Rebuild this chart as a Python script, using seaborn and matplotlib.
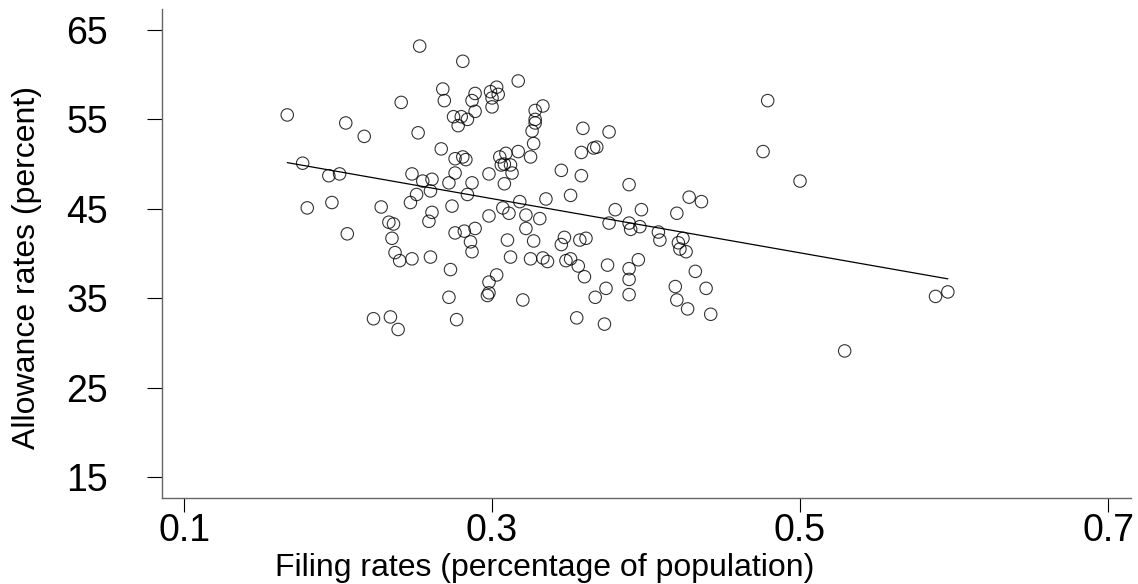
import matplotlib
matplotlib.use("Agg")
import matplotlib.pyplot as plt
import seaborn as sns
import pandas as pd

# filing rate (share of population) per district
filing = [
    0.253, 0.241, 0.167, 0.205, 0.217, 0.252, 0.177, 0.194, 0.201, 0.248,
    0.255, 0.261, 0.260, 0.251, 0.281, 0.317, 0.268, 0.269, 0.289, 0.287,
    0.299, 0.303, 0.304, 0.300, 0.300, 0.333, 0.328, 0.289, 0.275, 0.280,
    0.284, 0.278, 0.328, 0.328, 0.326, 0.327, 0.359, 0.366, 0.368, 0.358,
    0.267, 0.276, 0.281, 0.283, 0.309, 0.305, 0.317, 0.325, 0.308, 0.306,
    0.312, 0.313, 0.298, 0.345, 0.358, 0.276, 0.272, 0.287, 0.308, 0.284,
    0.318, 0.335, 0.351, 0.376, 0.389, 0.428, 0.436, 0.479, 0.476, 0.500,
    0.180, 0.196, 0.228, 0.206, 0.233, 0.236, 0.235, 0.237, 0.240, 0.248,
    0.260, 0.247, 0.261, 0.259, 0.223, 0.234, 0.239, 0.274, 0.298, 0.307,
    0.311, 0.322, 0.331, 0.322, 0.276, 0.282, 0.289, 0.286, 0.287, 0.310,
    0.327, 0.347, 0.345, 0.357, 0.361, 0.312, 0.325, 0.333, 0.336, 0.348,
    0.351, 0.356, 0.360, 0.273, 0.303, 0.298, 0.298, 0.297, 0.272, 0.320,
    0.367, 0.277, 0.355, 0.373, 0.380, 0.397, 0.420, 0.376, 0.389, 0.396,
    0.390, 0.408, 0.409, 0.424, 0.421, 0.422, 0.426, 0.375, 0.395, 0.389,
    0.389, 0.432, 0.374, 0.389, 0.419, 0.439, 0.420, 0.427, 0.442, 0.588,
    0.596, 0.529,
]

# allowance rate (percent)
allowance = [
    63.2, 56.9, 55.5, 54.6, 53.1, 53.5, 50.1, 48.7, 48.9, 48.9,
    48.1, 48.3, 47.0, 46.6, 61.5, 59.3, 58.4, 57.1, 57.9, 57.1,
    58.1, 58.6, 57.8, 57.4, 56.4, 56.5, 56.0, 55.9, 55.3, 55.3,
    55.0, 54.3, 55.0, 54.6, 53.7, 52.3, 54.0, 51.8, 51.9, 51.3,
    51.7, 50.6, 50.8, 50.5, 51.2, 50.8, 51.4, 50.8, 50.0, 49.9,
    49.9, 49.0, 48.9, 49.3, 48.7, 49.0, 47.9, 47.9, 47.8, 46.6,
    45.8, 46.1, 46.5, 53.6, 47.7, 46.3, 45.8, 57.1, 51.4, 48.1,
    45.1, 45.7, 45.2, 42.2, 43.5, 43.3, 41.7, 40.1, 39.2, 39.4,
    39.6, 45.7, 44.6, 43.6, 32.7, 32.9, 31.5, 45.3, 44.2, 45.1,
    44.5, 44.3, 43.9, 42.8, 42.3, 42.5, 42.8, 41.3, 40.2, 41.5,
    41.4, 41.8, 41.0, 41.5, 41.7, 39.6, 39.4, 39.5, 39.1, 39.2,
    39.4, 38.6, 37.4, 38.2, 37.6, 36.8, 35.6, 35.3, 35.1, 34.8,
    35.1, 32.6, 32.8, 32.1, 44.9, 44.9, 44.5, 43.4, 43.4, 43.0,
    42.7, 42.4, 41.5, 41.7, 41.2, 40.5, 40.2, 38.7, 39.3, 38.3,
    37.1, 38.0, 36.1, 35.4, 36.3, 36.1, 34.8, 33.8, 33.2, 35.2,
    35.7, 29.1,
]

x_ticks = [0.1, 0.3, 0.5, 0.7]
y_ticks = [15, 25, 35, 45, 55, 65]

df = pd.DataFrame({"filing": filing, "allowance": allowance})

sns.set_style("white")
plt.rcParams["font.family"] = ["Liberation Sans", "DejaVu Sans"]
plt.rcParams.update({
    "text.color": "black",
    "axes.labelcolor": "black",
    "xtick.color": "black",
    "ytick.color": "black",
})

fig = plt.figure(figsize=(11.38, 5.84), dpi=100)
ax = fig.add_axes([0.1424, 0.1473, 0.8514, 0.8373])

sns.regplot(
    data=df, x="filing", y="allowance", ax=ax, ci=None, color="black",
    marker="o", truncate=True,
    scatter_kws={"facecolors": "none", "edgecolors": "black", "s": 80, "linewidths": 0.8},
    line_kws={"color": "black", "lw": 0.9},
)

ax.set_xlim(0.0857, 0.7149)
ax.set_ylim(12.65, 67.35)
ax.set_xticks(x_ticks)
ax.set_xticklabels([str(t) for t in x_ticks])
ax.set_yticks(y_ticks)

for side in ["top", "right"]:
    ax.spines[side].set_visible(False)
for side in ["left", "bottom"]:
    ax.spines[side].set_color("#666666")
    ax.spines[side].set_linewidth(1.0)

ax.tick_params(axis="x", direction="out", length=10, width=0.8, color="black",
               labelsize=27, labelcolor="black", pad=1, bottom=True)
ax.tick_params(axis="y", direction="out", length=11, width=0.8, color="black",
               labelsize=27, labelcolor="black", pad=28, left=True)

ax.set_xlabel("Filing rates (percentage of population)", fontsize=23, color="black")
ax.set_ylabel("Allowance rates (percent)", fontsize=23, color="black")
ax.xaxis.set_label_coords(0.395, -0.113)
ax.yaxis.set_label_coords(-0.124, 0.471)

fig.savefig("out.png", dpi=100)
